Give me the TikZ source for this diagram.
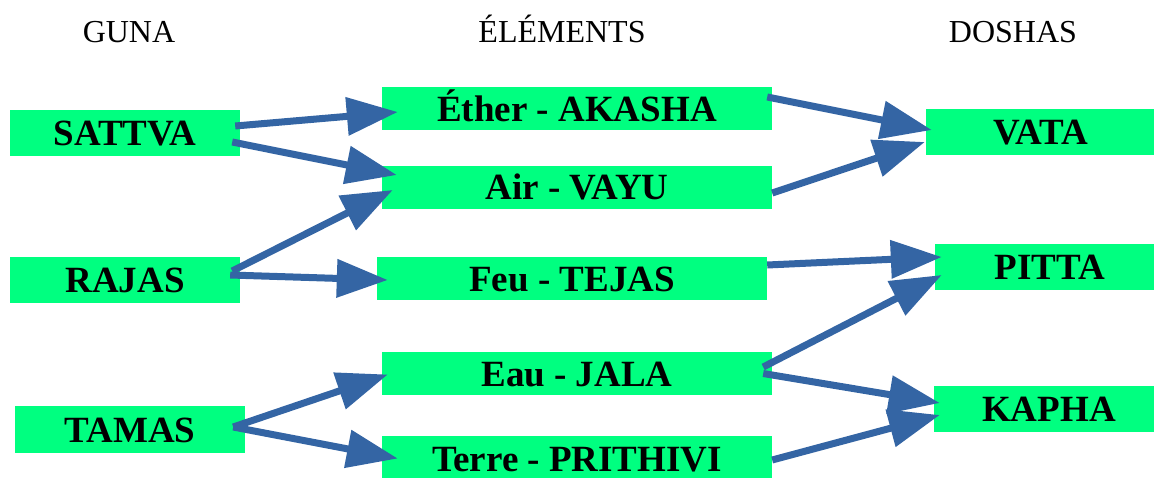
\documentclass[tikz,border=0pt]{standalone}
\usepackage{fontspec}
\setmainfont{Liberation Serif}
\usetikzlibrary{arrows.meta,calc}
\definecolor{boxgreen}{RGB}{0,255,128}
\definecolor{arrowblue}{RGB}{52,101,164}
\tikzset{
  gbox/.style={fill=boxgreen, inner sep=0pt, font=\fontsize{37}{41}\selectfont\bfseries,
    text height=25pt, text depth=0pt, align=center},
  hdr/.style={font=\fontsize{32}{36}\selectfont, anchor=base, inner sep=0pt},
  conn/.style={draw=arrowblue, line width=7pt, -{Triangle[length=51pt,width=37pt]}}
}
\begin{document}
\begin{tikzpicture}[x=1pt,y=-1pt]
\clip (0,0) rectangle (1154,477);
\useasboundingbox (0,0) rectangle (1154,477);
% headers
\node[hdr] (guna) at (129,42) {GUNA};
\node[hdr] (elem) at (562,42) {ÉLÉMENTS};
\node[hdr] (dosh) at (1013,42) {DOSHAS};
% guna boxes
\node[gbox, minimum width=230pt, minimum height=46pt] (sattva) at (125,133) {SATTVA};
\node[gbox, minimum width=230pt, minimum height=46pt] (rajas) at (125,280) {RAJAS};
\node[gbox, minimum width=230pt, minimum height=47pt] (tamas) at (130,429.5) {TAMAS};
% elements
\node[gbox, minimum width=390pt, minimum height=43pt] (ether) at (577,108.5) {Éther - AKASHA};
\node[gbox, minimum width=390pt, minimum height=43pt] (air) at (577,187) {Air - VAYU};
\node[gbox, minimum width=390pt, minimum height=43pt] (feu) at (572,278.5) {Feu - TEJAS};
\node[gbox, minimum width=390pt, minimum height=43pt] (eau) at (577,373.5) {Eau - JALA};
\node[gbox, minimum width=390pt, minimum height=45pt] (terre) at (577,458.5) {Terre - PRITHIVI};
% doshas
\node[gbox, minimum width=230pt, minimum height=46pt] (vata) at (1041,132) {VATA};
\node[gbox, minimum width=230pt, minimum height=46pt] (pitta) at (1050,267) {PITTA};
\node[gbox, minimum width=230pt, minimum height=46pt] (kapha) at (1049,409) {KAPHA};
% connectors
\draw[conn] ($(sattva.east)+(-5,-7)$) -- ($(ether.west)+(16,3.5)$);
\draw[conn] ($(sattva.east)+(-8,9)$) -- ($(air.west)+(15,-12)$);
\draw[conn] ($(rajas.east)+(-8,-9)$) -- ($(air.west)+(11,3)$);
\draw[conn] ($(rajas.east)+(-10,-5)$) -- ($(feu.west)+(11,1.5)$);
\draw[conn] ($(tamas.east)+(-12,-2.5)$) -- ($(eau.west)+(6,1)$);
\draw[conn] ($(tamas.east)+(-12,-2.5)$) -- ($(terre.west)+(16,0)$);
\draw[conn] ($(ether.east)+(-5,-11.5)$) -- ($(vata.west)+(6,-2)$);
\draw[conn] ($(air.east)+(0,6)$) -- ($(vata.west)+(-1,10)$);
\draw[conn] ($(feu.east)+(0,-13.5)$) -- ($(pitta.west)+(7,-10)$);
\draw[conn] ($(eau.east)+(-9,-6.5)$) -- ($(pitta.west)+(7,8)$);
\draw[conn] ($(eau.east)+(-9,0)$) -- ($(kapha.west)+(6,-6)$);
\draw[conn] ($(terre.east)+(0,1.5)$) -- ($(kapha.west)+(6,6)$);
\end{tikzpicture}
\end{document}
